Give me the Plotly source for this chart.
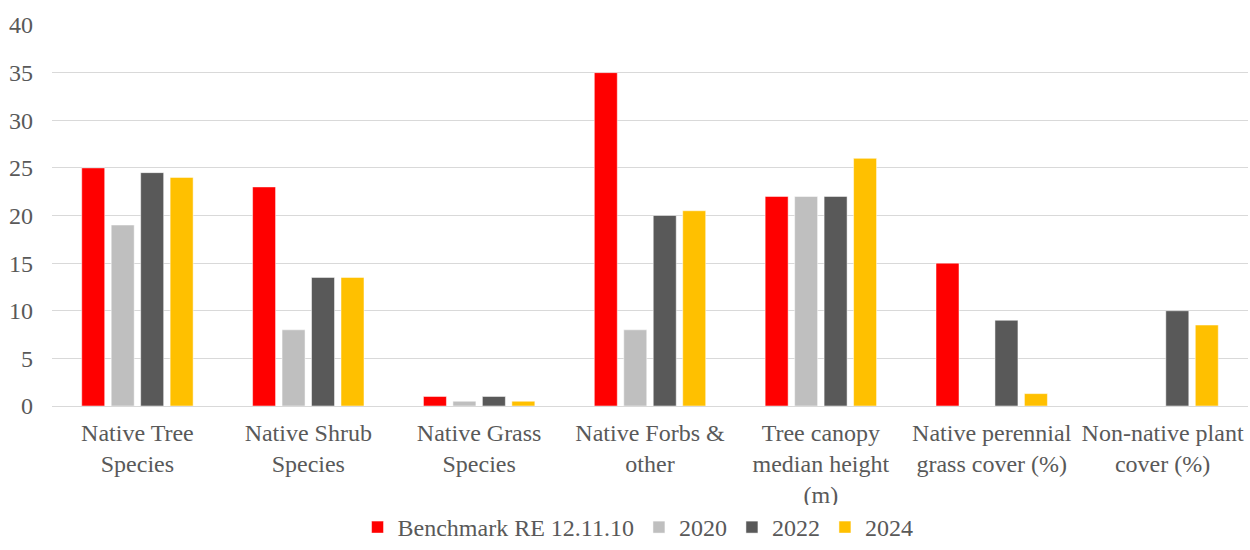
import plotly.graph_objects as go

categories = ["Native Tree<br>Species", "Native Shrub<br>Species", "Native Grass<br>Species",
              "Native Forbs &<br>other", "Tree canopy<br>median height<br>(m)",
              "Native perennial<br>grass cover (%)", "Non-native plant<br>cover (%)"]
benchmark = [25, 23, 1, 35, 22, 15, None]
y2020 = [19, 8, 0.5, 8, 22, None, None]
y2022 = [24.5, 13.5, 1, 20, 22, 9, 10]
y2024 = [24, 13.5, 0.5, 20.5, 26, 1.3, 8.5]
series_names = ["Benchmark RE 12.11.10", "2020", "2022", "2024"]
colors = ["#FF0000", "#BFBFBF", "#595959", "#FFC000"]
tick_vals = [0, 5, 10, 15, 20, 25, 30, 35, 40]

fig = go.Figure()
for name, vals, col in zip(series_names, [benchmark, y2020, y2022, y2024], colors):
    fig.add_trace(go.Bar(x=categories, y=vals, name=name,
                         marker=dict(color=col, line=dict(color="white", width=0.5))))

font = dict(family="Liberation Serif", size=24, color="#595959")
fig.update_layout(
    width=1250, height=550,
    margin=dict(l=52, r=2, t=25, b=144, autoexpand=False),
    barmode="group", bargap=0.31, bargroupgap=0.22,
    plot_bgcolor="white", paper_bgcolor="white",
    font=font,
    legend=dict(orientation="h", x=0.49, xanchor="center", yref="container", y=-0.01,
                yanchor="bottom", font=font, traceorder="normal", itemwidth=30),
    yaxis=dict(range=[0, 40], tickvals=tick_vals, showgrid=True, gridcolor="#D9D9D9",
               gridwidth=1, zeroline=True, zerolinecolor="#D9D9D9", zerolinewidth=1,
               ticks="", ticklabelstandoff=18, tickfont=font, automargin=False),
    xaxis=dict(showline=False, ticks="", tickfont=font, ticklabelstandoff=10, automargin=False),
)
fig.write_html("out.html")
